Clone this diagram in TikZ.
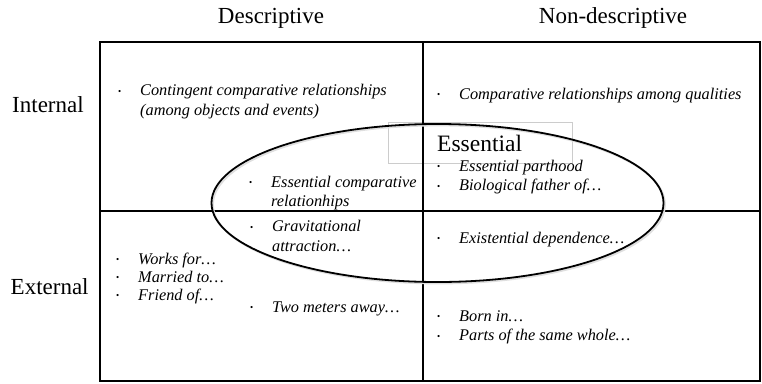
\documentclass[tikz,border=0pt]{standalone}
\usepackage{fontspec}
\setmainfont{Liberation Serif}
\usepackage{tikz}
\usetikzlibrary{positioning,calc}

\newcommand{\bul}{\makebox[22pt][l]{\raisebox{1.5pt}{\upshape\fontsize{9}{9}\selectfont\textbullet}}}
\newcommand{\ind}{\hspace*{22pt}}

\begin{document}
\begin{tikzpicture}[x=1pt,y=-1pt,
        head/.style={anchor=base,inner sep=0pt,font=\fontsize{23}{23}\selectfont},
        item/.style={anchor=base west,inner sep=0pt,align=left,font=\fontsize{16.3}{19.5}\selectfont\itshape},
        grid/.style={line width=1.3pt},
        ring/.style={line width=1.8pt}]
        \useasboundingbox (0,0) rectangle (762,383);

        \coordinate (nw) at (100,42);
        \coordinate (se) at (760,381);
        \coordinate (mt) at (423,42);
        \coordinate (mb) at (423,381);
        \coordinate (ml) at (100,211);
        \coordinate (mr) at (760,211);

        % text box behind the label
        \draw[gray!40, line width=0.6pt] (388,122) rectangle (572,163);

        \path[draw, grid]
        (nw) rectangle (se)
        (mt) -- (mb)
        (ml) -- (mr)
        ;

        % essential ring
        \draw[ring, gray!25] (439,204.5) ellipse [x radius=226, y radius=79];
        \draw[ring] (437.5,203) ellipse [x radius=226, y radius=79];

        \node[head] (desc) at (271,23) {Descriptive};
        \node[head] (nondesc) at (613,23) {Non-descriptive};
        \node[head, anchor=base west] (intl) at (12,112) {Internal};
        \node[head, anchor=base west] (extl) at (10.5,294) {External};
        \node[head, anchor=base west, font=\fontsize{23.5}{23.5}\selectfont] (ess) at (437,151) {Essential};

        % base = last line
        \node[item] (cont) at (118,115) {\bul Contingent comparative relationships\\ \ind(among objects and events)};
        \node[item] (qual) at (437,99) {\bul Comparative relationships among qualities};
        \node[item] (esscomp) at (249,206.5) {\bul Essential comparative\\ \ind relationhips};
        \node[item] (part) at (437,190.5) {\bul Essential parthood\\ \bul Biological father of\dots};
        \node[item] (grav) at (250,251) {\bul Gravitational\\ \ind attraction\dots};
        \node[item] (dep) at (437,243) {\bul Existential dependence\dots};
        \node[item, font=\fontsize{16.3}{18}\selectfont\itshape] (works) at (116,300) {\bul Works for\dots\\ \bul Married to\dots\\ \bul Friend of\dots};
        \node[item] (away) at (250,312) {\bul Two meters away\dots};
        \node[item] (born) at (437,340.5) {\bul Born in\dots\\ \bul Parts of the same whole\dots};
    \end{tikzpicture}
\end{document}
